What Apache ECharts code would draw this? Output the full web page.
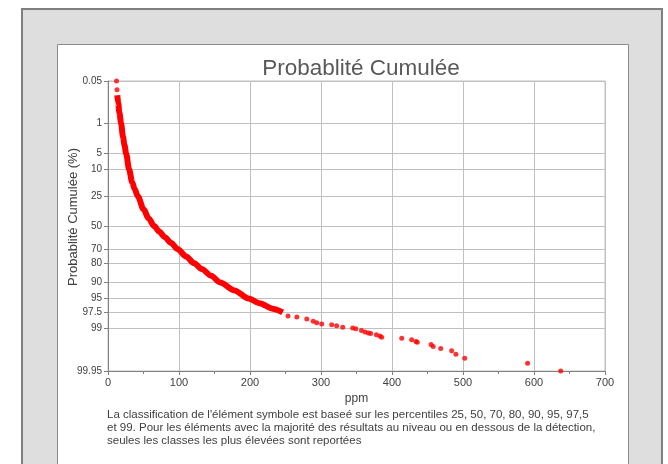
<!DOCTYPE html>
<html><head><meta charset="utf-8">
<script src="https://cdn.jsdelivr.net/npm/echarts@6/dist/echarts.min.js"></script>
<style>html,body{margin:0;padding:0;background:#fff}#c{width:668px;height:464px}</style>
</head><body><div id="c"></div>
<script>
const titleText = 'Probablité Cumulée';
const yAxisTitle = 'Probablité Cumulée (%)';
const xAxisTitle = 'ppm';
const noteLines = [
  "La classification de l'élément symbole est baseé sur les percentiles 25, 50, 70, 80, 90, 95, 97,5",
  "et 99. Pour les éléments avec la majorité des résultats au niveau ou en dessous de la détection,",
  "seules les classes les plus élevées sont reportées"
];
const yTickPct = [0.05, 1, 5, 10, 25, 50, 70, 80, 90, 95, 97.5, 99, 99.95];
const yTickLabels = ['0.05', '1', '5', '10', '25', '50', '70', '80', '90', '95', '97.5', '99', '99.95'];
const xMin = 0, xMax = 700, xStep = 100;

// dense part of the curve (ppm, cumulative %)
const densePpm = [13.1, 14.5, 16, 18.5, 21, 23.2, 25.5, 29.8, 34, 37.5, 42, 50, 57, 65, 72, 80, 89, 98, 110, 121, 132, 145, 158, 178, 198, 213, 233, 246];
const densePct = [0.15, 0.27, 0.5, 1, 2.1, 3.3, 5, 10, 16, 20, 25, 35, 43, 50, 55, 60, 65, 70, 75.5, 80, 83.5, 87, 90, 92.8, 95, 96, 97, 97.5];
// isolated points (ppm, cumulative %)
const dotPpm = [12, 12.7, 253.5, 266, 280, 289, 294, 301, 315, 322, 330.6, 344.6, 349, 357, 362, 366.6, 370, 378, 383, 385.5, 413.7, 427.7, 433.8, 435.6, 455, 458, 468.6, 484, 490, 502.4, 591, 637.6];
const dotPct = [0.05, 0.1, 97.94, 98.05, 98.26, 98.47, 98.59, 98.69, 98.75, 98.82, 98.92, 98.97, 99.01, 99.12, 99.19, 99.24, 99.26, 99.32, 99.37, 99.42, 99.46, 99.51, 99.56, 99.58, 99.64, 99.69, 99.73, 99.77, 99.82, 99.866, 99.908, 99.95];

function probit(p){
  const a=[-3.969683028665376e+01,2.209460984245205e+02,-2.759285104469687e+02,1.383577518672690e+02,-3.066479806614716e+01,2.506628277459239e+00];
  const b=[-5.447609879822406e+01,1.615858368580409e+02,-1.556989798598866e+02,6.680131188771972e+01,-1.328068155288572e+01];
  const c=[-7.784894002430293e-03,-3.223964580411365e-01,-2.400758277161838e+00,-2.549732539343734e+00,4.374664141464968e+00,2.938163982698783e+00];
  const d=[7.784695709041462e-03,3.224671290700398e-01,2.445134137142996e+00,3.754408661907416e+00];
  const pl=0.02425, ph=1-pl; let q,r;
  if(p<pl){q=Math.sqrt(-2*Math.log(p));return (((((c[0]*q+c[1])*q+c[2])*q+c[3])*q+c[4])*q+c[5])/((((d[0]*q+d[1])*q+d[2])*q+d[3])*q+1);}
  if(p<=ph){q=p-0.5;r=q*q;return (((((a[0]*r+a[1])*r+a[2])*r+a[3])*r+a[4])*r+a[5])*q/(((((b[0]*r+b[1])*r+b[2])*r+b[3])*r+b[4])*r+1);}
  q=Math.sqrt(-2*Math.log(1-p));return -(((((c[0]*q+c[1])*q+c[2])*q+c[3])*q+c[4])*q+c[5])/((((d[0]*q+d[1])*q+d[2])*q+d[3])*q+1);
}
const yTickZ = yTickPct.map(p => probit(p/100));
const zMin = yTickZ[0], zMax = yTickZ[yTickZ.length-1];
const denseData = densePpm.map((x,i) => [x, probit(densePct[i]/100)]);
const dotData = dotPpm.map((x,i) => [x, Math.min(zMax, probit(dotPct[i]/100))]);

const FONT = '"Liberation Sans", Arial, sans-serif';
const chart = echarts.init(document.getElementById('c'));
chart.setOption({
  animation: false,
  title: {
    text: titleText, left: 356, top: 52, textAlign: 'center',
    textStyle: {fontSize: 22.5, fontWeight: 'normal', color: '#595959', fontFamily: FONT}
  },
  graphic: [
    {type: 'rect', z: -10, shape: {x: 22, y: 9, width: 640, height: 470}, style: {fill: '#dedede', stroke: '#7f7f7f', lineWidth: 2}},
    {type: 'rect', z: -9, shape: {x: 57.5, y: 44.5, width: 571, height: 440}, style: {fill: '#ffffff', stroke: '#8a8a8a', lineWidth: 1}},
    {type: 'text', z: 10, x: 107, y: 408, style: {text: noteLines.join('\n'), font: '11.5px ' + FONT, lineHeight: 13, fill: '#404040'}}
  ],
  grid: {left: 108, top: 81, right: 63, bottom: 93, show: true, borderColor: '#c0c0c0', borderWidth: 1},
  xAxis: {
    type: 'value', min: xMin, max: xMax, interval: xStep,
    name: xAxisTitle, nameLocation: 'middle', nameGap: 20,
    nameTextStyle: {fontSize: 12, color: '#404040', fontFamily: FONT},
    axisLine: {show: true, onZero: false, lineStyle: {color: '#808080'}},
    axisTick: {show: true, length: 4, lineStyle: {color: '#808080'}},
    minorTick: {show: true, splitNumber: 2, length: 3, lineStyle: {color: '#808080'}},
    axisLabel: {fontSize: 11, color: '#404040', fontFamily: FONT, margin: 6},
    splitLine: {show: true, lineStyle: {color: '#c0c0c0'}}
  },
  yAxis: {
    type: 'value', inverse: true, min: zMin, max: zMax,
    name: yAxisTitle, nameLocation: 'middle', nameGap: 28, nameRotate: 90, nameMoveOverlap: false,
    nameTextStyle: {fontSize: 13, color: '#404040', fontFamily: FONT, padding: [0, 0, 0, 18]},
    axisLine: {show: true, onZero: false, lineStyle: {color: '#808080'}},
    axisTick: {show: true, length: 4, customValues: yTickZ, lineStyle: {color: '#808080'}},
    axisLabel: {
      customValues: yTickZ, fontSize: 10, color: '#404040', fontFamily: FONT, margin: 6,
      formatter: v => { let k = 0, best = 1e9; yTickZ.forEach((z,i) => { const d = Math.abs(z - v); if (d < best) {best = d; k = i;} }); return yTickLabels[k]; }
    },
    splitLine: {show: true, lineStyle: {color: '#c0c0c0'}}
  },
  series: [
    {type: 'line', data: denseData, showSymbol: false, smooth: 0.3, smoothMonotone: 'x', lineStyle: {color: '#ff0000', width: 6}, clip: false},
    {type: 'scatter', data: dotData, symbolSize: 5, itemStyle: {color: '#ff0000'}, clip: false}
  ]
});
</script></body></html>
